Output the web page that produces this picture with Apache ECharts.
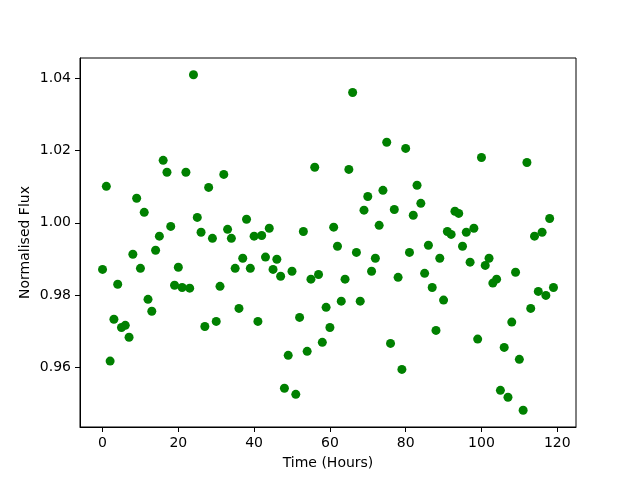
<!DOCTYPE html>
<html>
<head>
<meta charset="utf-8">
<script src="https://cdn.jsdelivr.net/npm/echarts@6/dist/echarts.min.js"></script>
<style>
  html, body { margin: 0; padding: 0; background: #fff; }
  #chart { width: 640px; height: 480px; }
</style>
</head>
<body>
<div id="chart"></div>
<script>
// hours 0..119, one reading per hour
const hours = [];
for (let i = 0; i < 120; i++) hours.push(i);

const flux = [
  0.9871, 1.0101, 0.9617, 0.9733, 0.9830, 0.9710, 0.9716, 0.9683, 0.9913, 1.0068,
  0.9874, 1.0029, 0.9788, 0.9755, 0.9924, 0.9963, 1.0173, 1.0140, 0.9990, 0.9827,
  0.9877, 0.9821, 1.0140, 0.9819, 1.0410, 1.0015, 0.9974, 0.9713, 1.0098, 0.9957,
  0.9727, 0.9824, 1.0134, 0.9982, 0.9957, 0.9874, 0.9763, 0.9902, 1.0010, 0.9874,
  0.9963, 0.9727, 0.9965, 0.9905, 0.9985, 0.9871, 0.9899, 0.9852, 0.9542, 0.9633,
  0.9866, 0.9525, 0.9738, 0.9976, 0.9644, 0.9844, 1.0154, 0.9857, 0.9669, 0.9766,
  0.9710, 0.9988, 0.9935, 0.9783, 0.9844, 1.0148, 1.0361, 0.9918, 0.9783, 1.0035,
  1.0073, 0.9866, 0.9902, 0.9993, 1.0090, 1.0223, 0.9666, 1.0037, 0.9849, 0.9594,
  1.0206, 0.9918, 1.0021, 1.0104, 1.0054, 0.9860, 0.9938, 0.9821, 0.9702, 0.9902,
  0.9786, 0.9976, 0.9968, 1.0032, 1.0026, 0.9935, 0.9974, 0.9891, 0.9985, 0.9678,
  1.0181, 0.9882, 0.9902, 0.9833, 0.9844, 0.9536, 0.9655, 0.9517, 0.9725, 0.9863,
  0.9622, 0.9481, 1.0167, 0.9763, 0.9963, 0.9810, 0.9974, 0.9799, 1.0012, 0.9821
];

const xTicks = [0, 20, 40, 60, 80, 100, 120];
const yTicks = [0.96, 0.98, 1.00, 1.02, 1.04];

const FONT = "DejaVu Sans";

// matplotlib-style 5% margins around the data
const xMin = Math.min(...hours), xMax = Math.max(...hours);
const yMin = Math.min(...flux), yMax = Math.max(...flux);
const xPad = (xMax - xMin) * 0.05;
const yPad = (yMax - yMin) * 0.05;

const chart = echarts.init(document.getElementById("chart"));

const axisCommon = {
  axisLine: { show: true, onZero: false, lineStyle: { color: "#000", width: 1 } },
  axisTick: { show: true, length: 5, inside: false, lineStyle: { color: "#000", width: 1 } },
  splitLine: { show: false },
  nameLocation: "middle",
  nameMoveOverlap: false,
  nameTextStyle: { fontFamily: FONT, fontSize: 14, color: "#000" },
};

chart.setOption({
  animation: false,
  grid: {
    left: 80, right: 64, top: 58, bottom: 53,
    show: true, borderColor: "#000", borderWidth: 1,
  },
  xAxis: {
    type: "value",
    ...axisCommon,
    name: "Time (Hours)",
    nameGap: 29,
    min: xMin - xPad,
    max: xMax + xPad,
    axisTick: { ...axisCommon.axisTick, customValues: xTicks },
    axisLabel: {
      customValues: xTicks,
      margin: 9,
      fontFamily: FONT, fontSize: 14, color: "#000",
    },
  },
  yAxis: {
    type: "value",
    ...axisCommon,
    name: "Normalised Flux",
    nameGap: 48,
    min: yMin - yPad,
    max: yMax + yPad,
    axisTick: { ...axisCommon.axisTick, customValues: yTicks },
    axisLabel: {
      customValues: yTicks,
      margin: 9,
      fontFamily: FONT, fontSize: 14, color: "#000",
      formatter: (v) => v.toFixed(2),
    },
  },
  series: [
    {
      type: "scatter",
      symbol: "circle",
      symbolSize: 9,
      itemStyle: { color: "#008000", opacity: 1 },
      data: hours.map((h, i) => [h, flux[i]]),
    },
  ],
});
</script>
</body>
</html>
